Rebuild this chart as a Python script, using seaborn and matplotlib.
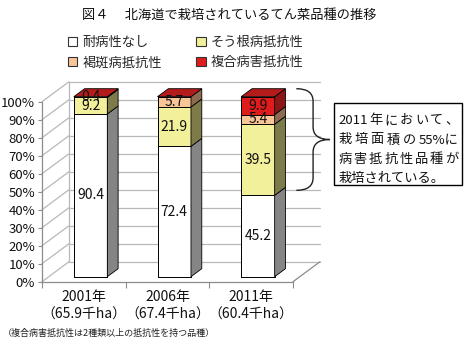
import numpy as np
import matplotlib
matplotlib.use('agg')
import matplotlib.pyplot as plt
from matplotlib.patches import Polygon, Patch, Rectangle, PathPatch
from matplotlib.path import Path
import seaborn as sns

years = ["2001年", "2006年", "2011年"]
areas = ["（65.9千ha）", "（67.4千ha）", "（60.4千ha）"]
series = ["耐病性なし", "そう根病抵抗性", "褐斑病抵抗性", "複合病害抵抗性"]
no_resist = [90.4, 72.4, 45.2]
root_resist = [9.2, 21.9, 39.5]
spot_resist = [0.0, 5.7, 5.4]
multi_resist = [0.4, 0.0, 9.9]
y_ticks = list(range(0, 101, 10))

front_colors = ["#ffffff", "#f3f09c", "#f8c597", "#e01b1b"]
side_colors = ["#858585", "#7d7b4a", "#8d6b50", "#8e1515"]
top_color = "#b41c1c"
grid_color = "#b8b8b8"
axis_color = "#8c8c8c"

sns.set_style("white")
plt.rcParams['font.family'] = ['Noto Sans CJK JP', 'DejaVu Sans']

W, H = 466, 353
fig = plt.figure(figsize=(W / 100, H / 100), dpi=100)
fig.patch.set_facecolor("white")

def fx(px):
    return px / W

def fy(py):
    return 1 - py / H

# front plane of the 3d box
ax = fig.add_axes([fx(42), fy(281.7), 251 / W, 180 / H])
ax.patch.set_alpha(0)

values = np.array([no_resist, root_resist, spot_resist, multi_resist])
cum = values.cumsum(axis=0)

# stacked bars: draw cumulative totals, biggest first
for i in reversed(range(len(series))):
    sns.barplot(x=years, y=cum[i], color=front_colors[i], width=0.4, saturation=1,
                edgecolor="black", linewidth=0.7, ax=ax, zorder=3)

ax.set_xlim(-0.5, 2.5)
ax.set_ylim(0, 100)

# depth of the box in data units (27px right, 20px up)
DX = 27 / (251 / 3)
DY = 20 / 1.8
d0, d1 = 0.25, 0.65  # front / back depth of the bars

for p in ax.patches:
    p.set_x(p.get_x() + d0 * DX)
    p.set_y(p.get_y() + d0 * DY)
    p.set_clip_on(False)

# side and top faces
half = 0.2
for j in range(len(years)):
    xr = j + half
    xl = j - half
    for i in range(len(series)):
        ya = cum[i][j] - values[i][j]
        yb = cum[i][j]
        if values[i][j] <= 0:
            continue
        pts = [(xr + d0 * DX, ya + d0 * DY), (xr + d1 * DX, ya + d1 * DY),
               (xr + d1 * DX, yb + d1 * DY), (xr + d0 * DX, yb + d0 * DY)]
        ax.add_patch(Polygon(pts, closed=True, facecolor=side_colors[i], edgecolor="black",
                             linewidth=0.6, clip_on=False, zorder=3))
    top = cum[-1][j]
    pts = [(xl + d0 * DX, top + d0 * DY), (xr + d0 * DX, top + d0 * DY),
           (xr + d1 * DX, top + d1 * DY), (xl + d1 * DX, top + d1 * DY)]
    ax.add_patch(Polygon(pts, closed=True, facecolor=top_color, edgecolor="black",
                         linewidth=0.6, clip_on=False, zorder=3))
    # value labels
    for i in range(len(series)):
        v = values[i][j]
        if v <= 0:
            continue
        ax.text(j + d0 * DX, cum[i][j] - v / 2 + d0 * DY, f"{v:.1f}", ha="center", va="center",
                fontsize=10, color="#111111", zorder=5, clip_on=False)

# walls and floor
for t in y_ticks:
    ax.plot([-0.5, -0.5 + DX], [t, t + DY], color=grid_color, lw=0.9, clip_on=False, zorder=1)
    ax.plot([-0.5 + DX, 2.5 + DX], [t + DY, t + DY], color=grid_color, lw=0.9, clip_on=False, zorder=1)
ax.plot([-0.5 + DX, -0.5 + DX], [DY, 100 + DY], color=grid_color, lw=0.9, clip_on=False, zorder=1)
ax.plot([2.5, 2.5 + DX], [0, DY], color=axis_color, lw=0.9, clip_on=False, zorder=1)

sns.despine(ax=ax, top=True, right=True)
for s in ["left", "bottom"]:
    ax.spines[s].set_color(axis_color)
    ax.spines[s].set_linewidth(0.9)

ax.set_yticks(y_ticks)
ax.set_yticklabels([f"{t}%" for t in y_ticks])
ax.tick_params(axis="y", left=True, length=3, width=0.8, color=axis_color, pad=2,
               labelsize=9.5, labelcolor="#111111")
ax.set_xticks([-0.5, 0.5, 1.5, 2.5])
ax.set_xticklabels([])
ax.set_xticks([0, 1, 2], minor=True)
ax.set_xticklabels([f"{y}\n{a}" for y, a in zip(years, areas)], minor=True,
                   fontsize=10, linespacing=1.35, color="#111111")
ax.tick_params(axis="x", which="major", bottom=True, length=4, width=0.8, color=axis_color)
ax.tick_params(axis="x", which="minor", bottom=True, length=0, pad=6)
ax.set_xlabel("")
ax.set_ylabel("")

# brace next to the 2011 bar
x0, xm, xt = 2.54, 2.74, 2.94
ytop = 100 + d1 * DY
ybot = cum[0][2] + 0.5 * DY
ymid = (ytop + ybot) / 2
r = 7
verts = [(x0, ytop), (xm, ytop), (xm, ytop - r), (xm, ymid + r), (xm, ymid), (xt, ymid),
         (xm, ymid), (xm, ymid - r), (xm, ybot + r), (xm, ybot), (x0, ybot)]
codes = [Path.MOVETO, Path.CURVE3, Path.CURVE3, Path.LINETO, Path.CURVE3, Path.CURVE3,
         Path.CURVE3, Path.CURVE3, Path.LINETO, Path.CURVE3, Path.CURVE3]
ax.add_patch(PathPatch(Path(verts, codes), facecolor="none", edgecolor="#222222",
                       linewidth=1.0, clip_on=False, zorder=4))

# note box
fig.add_artist(Rectangle((fx(334), fy(185)), (462 - 334) / W, (185 - 103) / H,
                         transform=fig.transFigure, facecolor="white", edgecolor="black", linewidth=1))
note_lines = [["2011", "年", "に", "お", "い", "て", "、"],
              ["栽", "培", "面", "積", "の", "55%に"],
              ["病", "害", "抵", "抗", "性", "品", "種", "が"],
              ["栽培されている。"]]
renderer = fig.canvas.get_renderer()
for k, tokens in enumerate(note_lines):
    y = fy(120.7 + k * 19.3)
    texts = [fig.text(0, y, tok, ha="left", va="center", fontsize=9.5, color="#111111") for tok in tokens]
    if len(texts) == 1:
        texts[0].set_x(fx(338.5))
        continue
    widths = [t.get_window_extent(renderer).width for t in texts]
    gap = (458.5 - 338.5 - sum(widths)) / (len(texts) - 1)
    x = 338.5
    for t, w in zip(texts, widths):
        t.set_x(fx(x))
        x += w + gap

# title
fig.text(fx(229), fy(15), "図４　 北海道で栽培されているてん菜品種の推移", ha="center", va="center",
         fontsize=9.5, color="#111111")

# legend
handles = [Patch(facecolor=front_colors[i], edgecolor="#333333", linewidth=0.8) for i in range(4)]
order = [0, 2, 1, 3]
fig.legend([handles[i] for i in order], [series[i] for i in order], ncol=2,
           loc="upper left", bbox_to_anchor=(fx(68), fy(36)), frameon=False,
           fontsize=9.5, handlelength=0.7, handleheight=0.7, handletextpad=0.4,
           columnspacing=2.6, labelspacing=0.55, borderpad=0, borderaxespad=0)

# footnote
fig.text(fx(3), fy(333), "（複合病害抵抗性は2種類以上の抵抗性を持つ品種）", ha="left", va="center",
         fontsize=6.5, color="#222222")

fig.savefig("out.png", dpi=100)
